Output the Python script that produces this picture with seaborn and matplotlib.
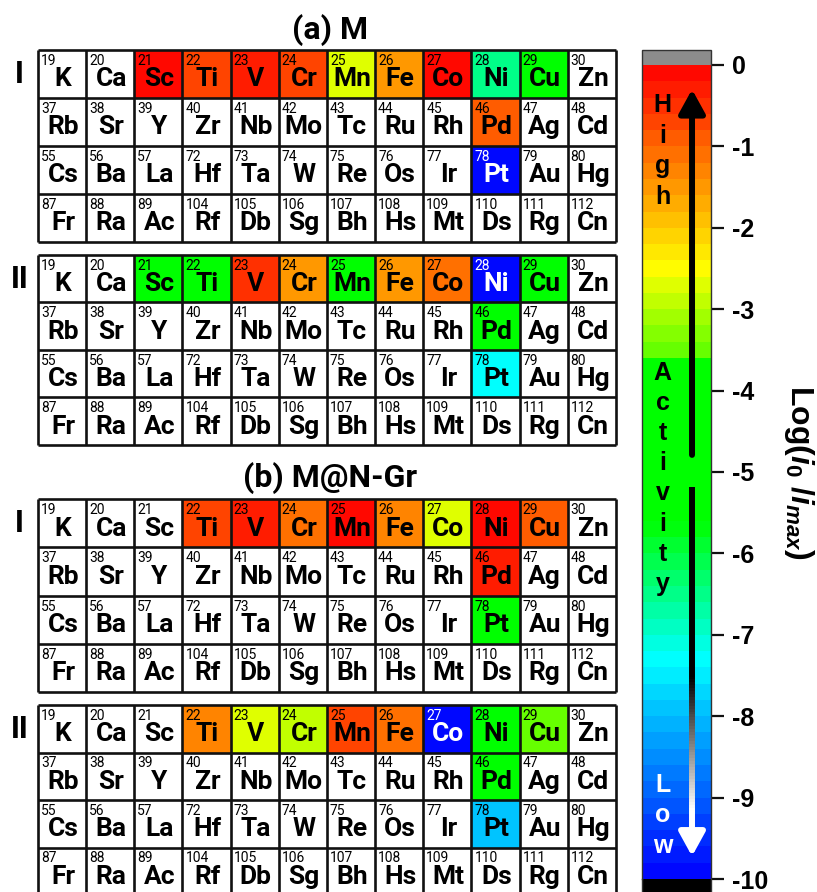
import numpy as np
import pandas as pd
import matplotlib
matplotlib.use("Agg")
import matplotlib.pyplot as plt
import seaborn as sns
from matplotlib.colors import LinearSegmentedColormap, ListedColormap
from matplotlib.collections import LineCollection
from matplotlib.transforms import blended_transform_factory

nan = np.nan

# Periodic-table block: groups 1-12, periods 4-7
symbols = [
    ["K", "Ca", "Sc", "Ti", "V", "Cr", "Mn", "Fe", "Co", "Ni", "Cu", "Zn"],
    ["Rb", "Sr", "Y", "Zr", "Nb", "Mo", "Tc", "Ru", "Rh", "Pd", "Ag", "Cd"],
    ["Cs", "Ba", "La", "Hf", "Ta", "W", "Re", "Os", "Ir", "Pt", "Au", "Hg"],
    ["Fr", "Ra", "Ac", "Rf", "Db", "Sg", "Bh", "Hs", "Mt", "Ds", "Rg", "Cn"],
]
numbers = [
    [19, 20, 21, 22, 23, 24, 25, 26, 27, 28, 29, 30],
    [37, 38, 39, 40, 41, 42, 43, 44, 45, 46, 47, 48],
    [55, 56, 57, 72, 73, 74, 75, 76, 77, 78, 79, 80],
    [87, 88, 89, 104, 105, 106, 107, 108, 109, 110, 111, 112],
]

# log(i0/imax) for each metal (NaN = not computed)
act_M_I = [
    [nan, nan, -0.1, -0.7, -0.4, -0.8, -2.7, -1.5, -0.1, -6.6, -4.5, nan],
    [nan, nan, nan, nan, nan, nan, nan, nan, nan, -1.0, nan, nan],
    [nan, nan, nan, nan, nan, nan, nan, nan, nan, -9.9, nan, nan],
    [nan, nan, nan, nan, nan, nan, nan, nan, nan, nan, nan, nan],
]
act_M_II = [
    [nan, nan, -4.5, -4.5, -0.6, -1.5, -4.5, -1.5, -1.1, -9.9, -4.5, nan],
    [nan, nan, nan, nan, nan, nan, nan, nan, nan, -4.5, nan, nan],
    [nan, nan, nan, nan, nan, nan, nan, nan, nan, -7.3, nan, nan],
    [nan, nan, nan, nan, nan, nan, nan, nan, nan, nan, nan, nan],
]
act_MNGr_I = [
    [nan, nan, nan, -0.7, -0.4, -1.2, -0.1, -1.3, -2.7, -0.15, -0.85, nan],
    [nan, nan, nan, nan, nan, nan, nan, nan, nan, -0.35, nan, nan],
    [nan, nan, nan, nan, nan, nan, nan, nan, nan, -4.5, nan, nan],
    [nan, nan, nan, nan, nan, nan, nan, nan, nan, nan, nan, nan],
]
act_MNGr_II = [
    [nan, nan, nan, -1.3, -2.7, -2.9, -0.7, -1.1, -9.9, -4.5, -3.4, nan],
    [nan, nan, nan, nan, nan, nan, nan, nan, nan, -4.2, nan, nan],
    [nan, nan, nan, nan, nan, nan, nan, nan, nan, -8.0, nan, nan],
    [nan, nan, nan, nan, nan, nan, nan, nan, nan, nan, nan, nan],
]

panels = [act_M_I, act_M_II, act_MNGr_I, act_MNGr_II]
row_labels = ["I", "II", "I", "II"]
titles = ["(a) M", "(b) M@N-Gr"]
cbar_ticks = [0, -1, -2, -3, -4, -5, -6, -7, -8, -9, -10]

sns.set_theme(style="white")
plt.rcParams["font.family"] = ["Liberation Sans", "DejaVu Sans"]
plt.rcParams["font.weight"] = "bold"
plt.rcParams["text.color"] = "black"
plt.rcParams["axes.labelcolor"] = "black"
plt.rcParams["ytick.color"] = "black"
plt.rcParams["xtick.color"] = "black"
plt.rcParams["axes.unicode_minus"] = False
plt.rcParams["mathtext.fontset"] = "custom"
plt.rcParams["mathtext.rm"] = "Liberation Sans:bold"
plt.rcParams["mathtext.it"] = "Liberation Sans:italic:bold"

# stepped rainbow scale, blue (low) -> red (high)
nodes = [0.0, 0.27, 0.44, 0.645, 0.65, 0.75, 1.0]
node_cols = ["#0000ff", "#00ffff", "#00ff00", "#00ff00", "#64ff00", "#ffff00", "#ff0000"]
smooth = LinearSegmentedColormap.from_list("act", list(zip(nodes, node_cols)))
cmap = ListedColormap(smooth(np.linspace(0.01, 0.99, 50)))
cmap.set_over("#8c8c8c")
cmap.set_under("#000000")

W, H = 817, 892
fig = plt.figure(figsize=(W / 100, H / 100), dpi=100)


def px_axes(x0, y0, x1, y1):
    return fig.add_axes([x0 / W, 1 - y1 / H, (x1 - x0) / W, (y1 - y0) / H])


boxes = [(38, 50, 616, 242), (38, 255, 616, 445), (38, 499, 616, 692), (38, 705, 616, 895)]
cax = px_axes(642, 50, 711, 894)

table_axes = []
for i, (vals, box) in enumerate(zip(panels, boxes)):
    ax = px_axes(*box)
    table_axes.append(ax)
    df = pd.DataFrame(vals)
    sns.heatmap(df, ax=ax, cmap=cmap, vmin=-10, vmax=0,
                cbar=(i == 0), cbar_ax=cax if i == 0 else None,
                cbar_kws=dict(extend="both", extendrect=True, extendfrac=0.0184,
                              ticks=cbar_ticks),
                xticklabels=False, yticklabels=False, linewidths=0)
    ax.set_facecolor("white")
    ax.hlines(range(5), 0, 12, color="#111111", lw=1.9, clip_on=False)
    ax.vlines(range(13), 0, 4, color="#111111", lw=1.9, clip_on=False)
    for r in range(4):
        for c in range(12):
            v = vals[r][c]
            tc = "white" if (not np.isnan(v) and v < -8.5) else "black"
            ax.text(c + 0.06, r + 0.23, str(numbers[r][c]), ha="left", va="center",
                    fontsize=10, fontfamily="Roboto", fontweight="normal", color=tc)
            ax.text(c + 0.52, r + 0.76, symbols[r][c], ha="center", va="baseline",
                    fontsize=19, fontfamily="Roboto", fontweight="bold", color=tc)
    fig.text(19.5 / W, 1 - (box[1] + 25) / H, row_labels[i], ha="center", va="center",
             fontsize=23, fontweight="bold", color="black")

fig.text(330 / W, 1 - 30 / H, titles[0], ha="center", va="center",
         fontsize=23, fontfamily="Roboto", fontweight="bold")
fig.text(330 / W, 1 - 478 / H, titles[1], ha="center", va="center",
         fontsize=23, fontfamily="Roboto", fontweight="bold")

# colour bar styling
cbar = table_axes[0].collections[0].colorbar
cbar.outline.set_linewidth(1.0)
cbar.outline.set_edgecolor("#333333")
cax.tick_params(axis="y", length=9, width=1.6, pad=6, labelsize=18, color="#111111",
                labelcolor="black", right=True, left=False, direction="out")
for lab in cax.get_yticklabels():
    lab.set_fontweight("bold")
    lab.set_fontfamily("Liberation Sans")

cax.text(2.27, 0.5, r"Log($i_{0}$ /$i_{max}$)", transform=cax.transAxes,
         rotation=270, ha="center", va="center", fontsize=23, fontweight="bold",
         color="black")

blend = blended_transform_factory(cax.transAxes, cax.transData)


# vertical captions inside the bar
def stack(word, y0, step, color):
    for k, ch in enumerate(word):
        cax.text(0.30, y0 - k * step, ch, transform=blend, ha="center", va="baseline",
                 fontsize=18, fontweight="bold", color=color)


stack("High", -0.58, 0.375, "black")
stack("Activity", -3.87, 0.37, "black")
stack("Low", -8.93, 0.375, "white")

# up arrow (high activity)
cax.annotate("", xy=(0.725, -0.30), xytext=(0.725, -4.79),
             xycoords=blend, textcoords=blend,
             arrowprops=dict(arrowstyle="-|>,head_length=0.4,head_width=0.22",
                             lw=4.3, color="black", mutation_scale=36,
                             shrinkA=0, shrinkB=0))

# down arrow (low activity), shaft fading black -> white
ys = np.linspace(-5.18, -9.45, 120)
segs = [[(0.725, ys[k]), (0.725, ys[k + 1])] for k in range(len(ys) - 1)]
mid = 0.5 * (ys[:-1] + ys[1:])
g = np.clip((-7.52 - mid) / (9.15 - 7.52), 0, 1)
cols = [(gg, gg, gg) for gg in g]
cax.add_collection(LineCollection(segs, colors=cols, linewidths=4.3,
                                  transform=blend, capstyle="butt"))
cax.annotate("", xy=(0.725, -9.72), xytext=(0.725, -9.40),
             xycoords=blend, textcoords=blend,
             arrowprops=dict(arrowstyle="-|>,head_length=0.4,head_width=0.22",
                             lw=4.3, color="white", mutation_scale=36,
                             shrinkA=0, shrinkB=0))

fig.savefig("out.png", dpi=100)
